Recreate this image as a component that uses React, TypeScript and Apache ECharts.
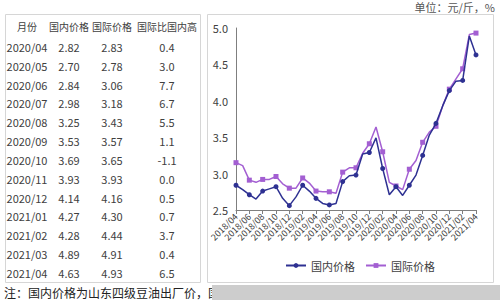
import React, { useEffect, useRef } from 'react';
import * as echarts from 'echarts';

const months = [
  '2018/04', '2018/05', '2018/06', '2018/07', '2018/08', '2018/09', '2018/10', '2018/11', '2018/12',
  '2019/01', '2019/02', '2019/03', '2019/04', '2019/05', '2019/06', '2019/07', '2019/08', '2019/09',
  '2019/10', '2019/11', '2019/12', '2020/01', '2020/02', '2020/03', '2020/04', '2020/05', '2020/06',
  '2020/07', '2020/08', '2020/09', '2020/10', '2020/11', '2020/12', '2021/01', '2021/02', '2021/03',
  '2021/04',
];

const domestic = [
  2.84, 2.78, 2.71, 2.65, 2.76, 2.79, 2.82, 2.66, 2.56,
  2.68, 2.84, 2.76, 2.66, 2.59, 2.57, 2.59, 2.89, 2.97,
  2.98, 3.27, 3.29, 3.49, 3.07, 2.71, 2.82, 2.70, 2.84,
  2.98, 3.25, 3.53, 3.69, 3.93, 4.14, 4.27, 4.28, 4.89,
  4.63,
];

const international = [
  3.15, 3.11, 2.91, 2.88, 2.92, 2.92, 2.96, 2.86, 2.80,
  2.80, 2.94, 2.87, 2.76, 2.75, 2.75, 2.73, 3.02, 3.08,
  3.08, 3.28, 3.41, 3.64, 3.30, 2.88, 2.83, 2.78, 3.06,
  3.18, 3.43, 3.57, 3.65, 3.93, 4.16, 4.30, 4.44, 4.91,
  4.93,
];

const tableHeaders = ['月份', '国内价格', '国际价格', '国际比国内高'];
const tableStart = 24;
const tableDiff = ['0.4', '3.0', '7.7', '6.7', '5.5', '1.1', '-1.1', '0.0', '0.5', '0.7', '3.7', '0.4', '6.5'];

const unitText = '单位：元/斤，%';
const noteText = '注：国内价格为山东四级豆油出厂价，国';

const FONT = 'Noto Sans CJK SC';

export default function App() {
  const ref = useRef<HTMLDivElement>(null);

  useEffect(() => {
    if (!ref.current) return;
    const chart = echarts.init(ref.current, undefined, { renderer: 'svg' });

    const colX = [27, 69, 112, 167];
    const headerY = 26;
    const rowY0 = 47;
    const rowStep = 18.83;
    const textStyleBase = { fontFamily: FONT, fontSize: 11, fill: '#404040', align: 'center', verticalAlign: 'middle' };

    const graphics: any[] = [
      { type: 'rect', shape: { x: 5.5, y: 14.5, width: 195, height: 268 }, style: { fill: 'none', stroke: '#d6d6d6', lineWidth: 1 }, z: 0 },
      { type: 'rect', shape: { x: 207.5, y: 14.5, width: 286, height: 268 }, style: { fill: 'none', stroke: '#d6d6d6', lineWidth: 1 }, z: 0 },
      { type: 'text', x: 495, y: 7, style: { text: unitText, fontFamily: FONT, fontSize: 11, fill: '#555', align: 'right', verticalAlign: 'middle' } },
      { type: 'text', x: 4, y: 292, style: { text: noteText, fontFamily: FONT, fontSize: 12, fill: '#222', align: 'left', verticalAlign: 'middle' } },
      { type: 'rect', shape: { x: 212, y: 285, width: 288, height: 15 }, style: { fill: '#cdcdcd' }, z: 10 },
    ];

    tableHeaders.forEach((h, i) => {
      graphics.push({ type: 'text', x: colX[i], y: headerY, style: { ...textStyleBase, fontSize: 10, text: h } });
    });
    tableDiff.forEach((d, r) => {
      const idx = tableStart + r;
      const y = rowY0 + r * rowStep;
      const cells = [months[idx], domestic[idx].toFixed(2), international[idx].toFixed(2), d];
      cells.forEach((c, i) => {
        graphics.push({ type: 'text', x: colX[i], y, style: { ...textStyleBase, text: c } });
      });
    });

    chart.setOption({
      animation: false,
      backgroundColor: '#fff',
      grid: { left: 236, right: 24, top: 28, bottom: 90, containLabel: false },
      legend: {
        bottom: 24,
        left: 280,
        itemWidth: 20,
        itemHeight: 6,
        itemGap: 10,
        textStyle: { fontFamily: FONT, fontSize: 11, color: '#404040' },
        data: ['国内价格', '国际价格'],
      },
      xAxis: {
        type: 'category',
        data: months,
        boundaryGap: false,
        axisLine: { lineStyle: { color: '#7f7f7f', width: 1 } },
        axisTick: { show: true, interval: 1, length: 4, lineStyle: { color: '#7f7f7f' } },
        axisLabel: {
          interval: 1, rotate: 45, fontFamily: FONT, fontSize: 9, color: '#404040', margin: 5,
          hideOverlap: false, showMinLabel: true, showMaxLabel: true,
        },
        splitLine: { show: false },
      },
      yAxis: {
        type: 'value',
        min: 2.5,
        max: 5.0,
        interval: 0.5,
        axisLine: { show: true, lineStyle: { color: '#7f7f7f', width: 1 } },
        axisTick: { show: false },
        axisLabel: { fontFamily: FONT, fontSize: 11, color: '#404040', margin: 8, formatter: (v: number) => v.toFixed(1) },
        splitLine: { show: false },
      },
      series: [
        {
          name: '国内价格',
          type: 'line',
          data: domestic,
          symbol: 'circle',
          symbolSize: 5,
          itemStyle: { color: '#2e3192' },
          lineStyle: { color: '#2e3192', width: 1.5 },
          z: 3,
        },
        {
          name: '国际价格',
          type: 'line',
          data: international,
          symbol: 'rect',
          symbolSize: 5,
          itemStyle: { color: '#a35fd2' },
          lineStyle: { color: '#a35fd2', width: 1.5 },
          z: 2,
        },
      ],
      graphic: graphics,
    });

    return () => chart.dispose();
  }, []);

  return (
    <div
      ref={ref}
      style={{ position: 'fixed', left: 0, top: 0, width: 500, height: 300, background: '#fff' }}
    />
  );
}
